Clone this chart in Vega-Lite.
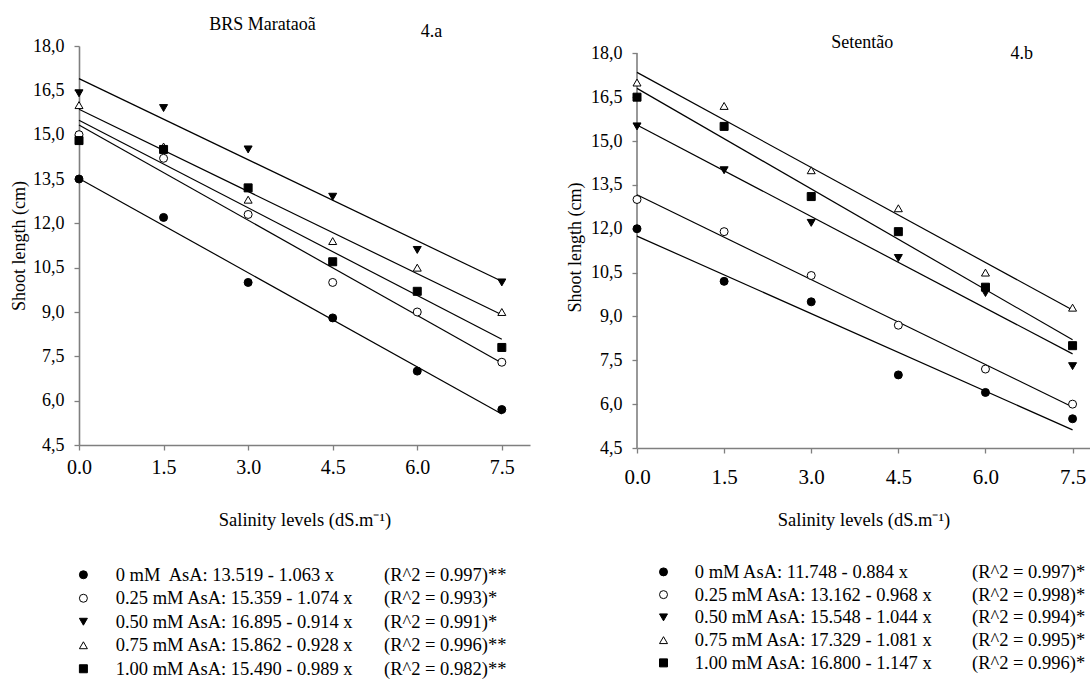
{
  "$schema": "https://vega.github.io/schema/vega-lite/v6.json",
  "padding": {"left": 10, "top": 15, "right": 0, "bottom": 0},
  "background": "white",
  "datasets": {
    "left": [
      {"series": "0 mM", "x": 0, "y": 13.5}, {"series": "0 mM", "x": 1.5, "y": 12.2}, {"series": "0 mM", "x": 3, "y": 10.0}, {"series": "0 mM", "x": 4.5, "y": 8.8}, {"series": "0 mM", "x": 6, "y": 7.0}, {"series": "0 mM", "x": 7.5, "y": 5.7},
      {"series": "0.25 mM", "x": 0, "y": 15.0}, {"series": "0.25 mM", "x": 1.5, "y": 14.2}, {"series": "0.25 mM", "x": 3, "y": 12.3}, {"series": "0.25 mM", "x": 4.5, "y": 10.0}, {"series": "0.25 mM", "x": 6, "y": 9.0}, {"series": "0.25 mM", "x": 7.5, "y": 7.3},
      {"series": "0.50 mM", "x": 0, "y": 16.4}, {"series": "0.50 mM", "x": 1.5, "y": 15.9}, {"series": "0.50 mM", "x": 3, "y": 14.5}, {"series": "0.50 mM", "x": 4.5, "y": 12.9}, {"series": "0.50 mM", "x": 6, "y": 11.1}, {"series": "0.50 mM", "x": 7.5, "y": 10.0},
      {"series": "0.75 mM", "x": 0, "y": 16.0}, {"series": "0.75 mM", "x": 1.5, "y": 14.6}, {"series": "0.75 mM", "x": 3, "y": 12.8}, {"series": "0.75 mM", "x": 4.5, "y": 11.4}, {"series": "0.75 mM", "x": 6, "y": 10.5}, {"series": "0.75 mM", "x": 7.5, "y": 9.0},
      {"series": "1.00 mM", "x": 0, "y": 14.8}, {"series": "1.00 mM", "x": 1.5, "y": 14.5}, {"series": "1.00 mM", "x": 3, "y": 13.2}, {"series": "1.00 mM", "x": 4.5, "y": 10.7}, {"series": "1.00 mM", "x": 6, "y": 9.7}, {"series": "1.00 mM", "x": 7.5, "y": 7.8}
    ],
    "right": [
      {"series": "0 mM", "x": 0, "y": 12.0}, {"series": "0 mM", "x": 1.5, "y": 10.2}, {"series": "0 mM", "x": 3, "y": 9.5}, {"series": "0 mM", "x": 4.5, "y": 7.0}, {"series": "0 mM", "x": 6, "y": 6.4}, {"series": "0 mM", "x": 7.5, "y": 5.5},
      {"series": "0.25 mM", "x": 0, "y": 13.0}, {"series": "0.25 mM", "x": 1.5, "y": 11.9}, {"series": "0.25 mM", "x": 3, "y": 10.4}, {"series": "0.25 mM", "x": 4.5, "y": 8.7}, {"series": "0.25 mM", "x": 6, "y": 7.2}, {"series": "0.25 mM", "x": 7.5, "y": 6.0},
      {"series": "0.50 mM", "x": 0, "y": 15.5}, {"series": "0.50 mM", "x": 1.5, "y": 14.0}, {"series": "0.50 mM", "x": 3, "y": 12.2}, {"series": "0.50 mM", "x": 4.5, "y": 11.0}, {"series": "0.50 mM", "x": 6, "y": 9.8}, {"series": "0.50 mM", "x": 7.5, "y": 7.3},
      {"series": "0.75 mM", "x": 0, "y": 17.0}, {"series": "0.75 mM", "x": 1.5, "y": 16.2}, {"series": "0.75 mM", "x": 3, "y": 14.0}, {"series": "0.75 mM", "x": 4.5, "y": 12.7}, {"series": "0.75 mM", "x": 6, "y": 10.5}, {"series": "0.75 mM", "x": 7.5, "y": 9.3},
      {"series": "1.00 mM", "x": 0, "y": 16.5}, {"series": "1.00 mM", "x": 1.5, "y": 15.5}, {"series": "1.00 mM", "x": 3, "y": 13.1}, {"series": "1.00 mM", "x": 4.5, "y": 11.9}, {"series": "1.00 mM", "x": 6, "y": 10.0}, {"series": "1.00 mM", "x": 7.5, "y": 8.0}
    ],
    "leftLegend": [
      {"series": "0 mM", "equation": "0 mM\u00a0 AsA: 13.519 - 1.063 x", "r2": "(R^2 = 0.997)**"},
      {"series": "0.25 mM", "equation": "0.25 mM AsA: 15.359 - 1.074 x", "r2": "\u00a0(R^2 = 0.993)*"},
      {"series": "0.50 mM", "equation": "0.50 mM AsA: 16.895 - 0.914 x", "r2": "\u00a0(R^2 = 0.991)*"},
      {"series": "0.75 mM", "equation": "0.75 mM AsA: 15.862 - 0.928 x", "r2": "\u00a0(R^2 = 0.996)**"},
      {"series": "1.00 mM", "equation": "1.00 mM AsA: 15.490 - 0.989 x", "r2": "\u00a0(R^2 = 0.982)**"}
    ],
    "rightLegend": [
      {"series": "0 mM", "equation": "0 mM AsA: 11.748 - 0.884 x", "r2": "(R^2 = 0.997)*"},
      {"series": "0.25 mM", "equation": "0.25 mM AsA: 13.162 - 0.968 x", "r2": "\u00a0(R^2 = 0.998)*"},
      {"series": "0.50 mM", "equation": "0.50 mM AsA: 15.548 - 1.044 x", "r2": "\u00a0(R^2 = 0.994)*"},
      {"series": "0.75 mM", "equation": "0.75 mM AsA: 17.329 - 1.081 x", "r2": "\u00a0(R^2 = 0.995)*"},
      {"series": "1.00 mM", "equation": "1.00 mM AsA: 16.800 - 1.147 x", "r2": "\u00a0(R^2 = 0.996)*"}
    ],
    "leftLabels": [{"label": "BRS Marataoã"}],
    "leftTag": [{"label": "4.a"}],
    "rightLabels": [{"label": "Setentão"}],
    "rightTag": [{"label": "4.b"}],
    "one": [{"k": 1}]
  },
  "config": {
    "view": {"stroke": null},
    "font": "Liberation Serif",
    "axis": {"grid": false, "labelFont": "Liberation Serif", "titleFont": "Liberation Serif", "labelColor": "black", "titleColor": "black", "titleFontWeight": "normal", "domainColor": "#7f7f7f", "tickColor": "#7f7f7f", "domainWidth": 1.6, "tickWidth": 1.3, "tickSize": 5, "labelFlush": false}
  },
  "resolve": {"scale": {"x": "independent", "y": "independent"}},
  "spacing": 36,
  "hconcat": [
    {
      "resolve": {"scale": {"x": "independent", "y": "independent"}},
      "spacing": 34,
      "vconcat": [
        {
          "width": 451,
          "height": 399,
          "data": {"name": "left"},
          "layer": [
            {
              "transform": [{"regression": "y", "on": "x", "groupby": ["series"], "extent": [0, 7.5]}],
              "mark": {"type": "line", "color": "black", "strokeWidth": 1.2},
              "encoding": {
                "x": {"field": "x", "type": "quantitative", "scale": {"domain": [0, 8], "nice": false, "zero": false},
                  "axis": {"values": [0, 1.5, 3, 4.5, 6, 7.5], "format": ".1f", "labelFont": "Liberation Serif", "titleFont": "Liberation Serif", "labelFontSize": 20, "labelPadding": 7, "title": "Salinity levels (dS.m⁻¹)", "titleFontSize": 18.5, "titlePadding": 33,
                    "encode": {"labels": {"update": {"dx": {"signal": "datum.value === 0 ? 3.5 : 0"}, "dy": {"signal": "datum.value === 0 ? 3.3 : 0"}}}}}},
                "y": {"field": "y", "type": "quantitative", "scale": {"domain": [4.5, 18], "nice": false, "zero": false},
                  "axis": {"values": [4.5, 6, 7.5, 9, 10.5, 12, 13.5, 15, 16.5, 18], "labelExpr": "replace(format(datum.value, '.1f'), '.', ',')", "labelFont": "Liberation Serif", "titleFont": "Liberation Serif", "labelFontSize": 18, "labelPadding": 10, "title": "Shoot length (cm)", "titleFontSize": 18, "titlePadding": 4}},
                "detail": {"field": "series"}
              }
            },
            {
              "mark": {"type": "point", "filled": false, "stroke": "black", "strokeWidth": 1, "opacity": 1},
              "encoding": {
                "x": {"field": "x", "type": "quantitative"},
                "y": {"field": "y", "type": "quantitative"},
                "shape": {"field": "series", "type": "nominal", "scale": {"domain": ["0 mM", "0.25 mM", "0.50 mM", "0.75 mM", "1.00 mM"], "range": ["circle", "circle", "triangle-down", "triangle-up", "square"]}, "legend": null},
                "fill": {"field": "series", "type": "nominal", "scale": {"domain": ["0 mM", "0.25 mM", "0.50 mM", "0.75 mM", "1.00 mM"], "range": ["black", "white", "black", "white", "black"]}, "legend": null},
                "size": {"field": "series", "type": "ordinal", "scale": {"domain": ["0 mM", "0.25 mM", "0.50 mM", "0.75 mM", "1.00 mM"], "range": [64, 64, 95, 95, 64]}, "legend": null}
              }
            },
            {
              "data": {"name": "leftLabels"},
              "mark": {"type": "text", "align": "center", "baseline": "alphabetic", "font": "Liberation Serif", "fontSize": 18, "color": "black"},
              "encoding": {"x": {"datum": 3.255, "type": "quantitative"}, "y": {"datum": 18.558, "type": "quantitative"}, "text": {"field": "label"}}
            },
            {
              "data": {"name": "leftTag"},
              "mark": {"type": "text", "align": "left", "baseline": "alphabetic", "font": "Liberation Serif", "fontSize": 18, "color": "black"},
              "encoding": {"x": {"datum": 6.06, "type": "quantitative"}, "y": {"datum": 18.29, "type": "quantitative"}, "text": {"field": "label"}}
            }
          ]
        },
        {
          "width": 451,
          "height": 117.5,
          "data": {"name": "leftLegend"},
          "layer": [
            {
              "mark": {"type": "point", "filled": false, "stroke": "black", "strokeWidth": 1, "opacity": 1},
              "encoding": {
                "x": {"datum": 4.4, "type": "quantitative", "scale": {"domain": [0, 451], "nice": false}, "axis": null},
                "y": {"field": "series", "type": "ordinal", "scale": {"type": "point", "padding": 0.5, "domain": ["0 mM", "0.25 mM", "0.50 mM", "0.75 mM", "1.00 mM"]}, "axis": null},
                "shape": {"field": "series", "type": "nominal", "legend": null},
                "fill": {"field": "series", "type": "nominal", "legend": null},
                "size": {"field": "series", "type": "ordinal", "legend": null}
              }
            },
            {
              "mark": {"type": "text", "align": "left", "baseline": "middle", "font": "Liberation Serif", "fontSize": 18.5, "color": "black"},
              "encoding": {
                "x": {"datum": 36.7, "type": "quantitative"},
                "y": {"field": "series", "type": "ordinal"},
                "text": {"field": "equation"}
              }
            },
            {
              "mark": {"type": "text", "align": "left", "baseline": "middle", "font": "Liberation Serif", "fontSize": 18.5, "color": "black"},
              "encoding": {
                "x": {"datum": 305, "type": "quantitative"},
                "y": {"field": "series", "type": "ordinal"},
                "text": {"field": "r2"}
              }
            }
          ]
        }
      ]
    },
    {
      "resolve": {"scale": {"x": "independent", "y": "independent"}},
      "spacing": 31.5,
      "vconcat": [
        {
          "width": 453,
          "height": 402,
          "data": {"name": "right"},
          "layer": [
            {
              "data": {"name": "one"},
              "mark": {"type": "rule", "color": "#7f7f7f", "strokeWidth": 1.6},
              "encoding": {"x": {"datum": 0, "type": "quantitative"}, "y": {"datum": 4.5, "type": "quantitative"}, "y2": {"datum": 18}}
            },
            {
              "transform": [{"regression": "y", "on": "x", "groupby": ["series"], "extent": [0, 7.5]}],
              "mark": {"type": "line", "color": "black", "strokeWidth": 1.2},
              "encoding": {
                "x": {"field": "x", "type": "quantitative", "scale": {"domain": [0, 7.8], "nice": false, "zero": false},
                  "axis": {"values": [0, 1.5, 3, 4.5, 6, 7.5], "format": ".1f", "labelFont": "Liberation Serif", "titleFont": "Liberation Serif", "labelFontSize": 21, "labelPadding": 13, "title": "Salinity levels (dS.m⁻¹)", "titleFontSize": 18.5, "titlePadding": 23,
                    "encode": {"labels": {"update": {"dx": {"signal": "datum.value === 0 ? 10 : 0"}, "dy": {"signal": "datum.value === 0 ? 4.3 : 0"}}}}}},
                "y": {"field": "y", "type": "quantitative", "scale": {"domain": [4.5, 18.25], "nice": false, "zero": false},
                  "axis": {"values": [4.5, 6, 7.5, 9, 10.5, 12, 13.5, 15, 16.5, 18], "labelExpr": "replace(format(datum.value, '.1f'), '.', ',')", "labelFont": "Liberation Serif", "titleFont": "Liberation Serif", "labelFontSize": 18, "labelPadding": 10, "title": "Shoot length (cm)", "titleFontSize": 18, "titlePadding": 6, "domain": false}},
                "detail": {"field": "series"}
              }
            },
            {
              "mark": {"type": "point", "filled": false, "stroke": "black", "strokeWidth": 1, "opacity": 1},
              "encoding": {
                "x": {"field": "x", "type": "quantitative"},
                "y": {"field": "y", "type": "quantitative"},
                "shape": {"field": "series", "type": "nominal", "legend": null},
                "fill": {"field": "series", "type": "nominal", "legend": null},
                "size": {"field": "series", "type": "ordinal", "legend": null}
              }
            },
            {
              "data": {"name": "rightLabels"},
              "mark": {"type": "text", "align": "center", "baseline": "alphabetic", "font": "Liberation Serif", "fontSize": 18, "color": "black"},
              "encoding": {"x": {"datum": 3.88, "type": "quantitative"}, "y": {"datum": 18.18, "type": "quantitative"}, "text": {"field": "label"}}
            },
            {
              "data": {"name": "rightTag"},
              "mark": {"type": "text", "align": "left", "baseline": "alphabetic", "font": "Liberation Serif", "fontSize": 18, "color": "black"},
              "encoding": {"x": {"datum": 6.43, "type": "quantitative"}, "y": {"datum": 17.79, "type": "quantitative"}, "text": {"field": "label"}}
            }
          ]
        },
        {
          "width": 453,
          "height": 113.75,
          "data": {"name": "rightLegend"},
          "layer": [
            {
              "mark": {"type": "point", "filled": false, "stroke": "black", "strokeWidth": 1, "opacity": 1},
              "encoding": {
                "x": {"datum": 26.5, "type": "quantitative", "scale": {"domain": [0, 453], "nice": false}, "axis": null},
                "y": {"field": "series", "type": "ordinal", "scale": {"type": "point", "padding": 0.5, "domain": ["0 mM", "0.25 mM", "0.50 mM", "0.75 mM", "1.00 mM"]}, "axis": null},
                "shape": {"field": "series", "type": "nominal", "legend": null},
                "fill": {"field": "series", "type": "nominal", "legend": null},
                "size": {"field": "series", "type": "ordinal", "legend": null}
              }
            },
            {
              "mark": {"type": "text", "align": "left", "baseline": "middle", "font": "Liberation Serif", "fontSize": 18.5, "color": "black"},
              "encoding": {
                "x": {"datum": 57.8, "type": "quantitative"},
                "y": {"field": "series", "type": "ordinal"},
                "text": {"field": "equation"}
              }
            },
            {
              "mark": {"type": "text", "align": "left", "baseline": "middle", "font": "Liberation Serif", "fontSize": 18.5, "color": "black"},
              "encoding": {
                "x": {"datum": 335, "type": "quantitative"},
                "y": {"field": "series", "type": "ordinal"},
                "text": {"field": "r2"}
              }
            }
          ]
        }
      ]
    }
  ]
}
